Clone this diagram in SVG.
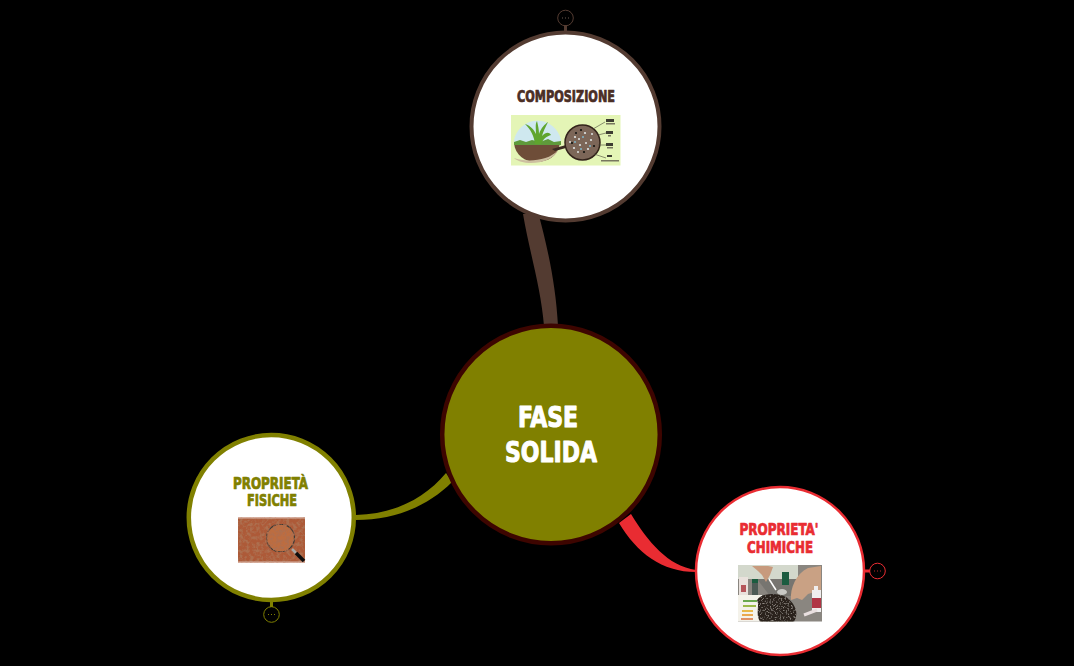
<svg xmlns="http://www.w3.org/2000/svg" width="1074" height="666" viewBox="0 0 1074 666">
<style>
text{font-family:"DejaVu Sans Condensed","DejaVu Sans",sans-serif;font-weight:700;text-anchor:middle;stroke-linejoin:round}
.t{font-size:15.500px;stroke-width:.7px}
.m{font-size:28.500px;fill:#fff;stroke:#fff;stroke-width:1px}
.b{fill:#fff}
.d{fill:none;stroke-width:1}
</style>
<defs>
<filter id="s" x="-5%" y="-5%" width="110%" height="110%"><feGaussianBlur stdDeviation=".5"/></filter>
<filter id="g" x="0" y="0" width="100%" height="100%"><feTurbulence type="fractalNoise" baseFrequency=".3" numOctaves="3" seed="4"/><feColorMatrix values="0 0 0 0 .42 0 0 0 0 .16 0 0 0 0 .08 3.500 0 0 0 -1.450"/><feComposite in2="SourceAlpha" operator="in" result="n"/><feMerge><feMergeNode in="SourceGraphic"/><feMergeNode in="n"/></feMerge></filter>
<filter id="k" x="0" y="0" width="100%" height="100%"><feTurbulence type="fractalNoise" baseFrequency=".6" numOctaves="2" seed="9"/><feColorMatrix values="0 0 0 0 .42 0 0 0 0 .38 0 0 0 0 .34 2.500 0 0 0 -1.350"/><feComposite in2="SourceAlpha" operator="in" result="n"/><feMerge><feMergeNode in="SourceGraphic"/><feMergeNode in="n"/></feMerge></filter>
</defs>
<rect width="1074" height="666" fill="#000"/>
<g id="connectors">
<path d="M523 214C529 250 541 288 544 326L558 326C556 285 547 245 538 212Z" fill="#533b31"/>
<path d="M356 515C395 514 425 498 446 473L452 482C428 506 395 520 356 520Z" fill="#808000"/>
<path d="M619 523L631 514C648 542 668 566 696 570L696 572C662 572 637 553 619 523Z" fill="#e92c32"/>
<rect x="564" y="25" width="3" height="7" fill="#533b31"/>
<rect x="270" y="601" width="3" height="6" fill="#808000"/>
<rect x="864" y="569.500" width="6" height="3" fill="#e92c32"/>
</g>
<g id="node-composizione">
<circle cx="565.500" cy="126.500" r="94" class="b" stroke="#533b31" stroke-width="4"/>
<text class="t" x="566" y="102" fill="#4a2e25" stroke="#4a2e25" textLength="98" lengthAdjust="spacingAndGlyphs">COMPOSIZIONE</text>
<g filter="url(#s)">
<rect x="511" y="115" width="109.500" height="50.500" fill="#e4f5b6"/>
<path d="M514 140A24 24 0 0 1 561 140L560 144H515Z" fill="#cfe8ef"/>
<path d="M514 143H560C558 156 548 162 536 162C525 162 515 155 514 143Z" fill="#6e4d38"/>
<path d="M514 158C525 162 548 162 558 150C552 165 522 166 514 158Z" fill="#cdbfa0"/>
<path d="M514 142L520 140L526 142L532 140L540 142L548 139L554 142L561 141V145H514Z" fill="#5f9a3a"/>
<path d="M535 144C534 136 531 130 525 124C531 126 534 130 536 134C536 128 535 124 537 121C538 125 539 130 539 134C541 128 545 124 548 122C545 128 543 132 542 136C546 132 549 132 551 135C547 136 543 139 541 144Z" fill="#5ea52f"/>
<path d="M552 149L566 145V148L555 151Z" fill="#3a2a20"/>
<circle cx="582.500" cy="142.500" r="17.500" fill="#7c6658" stroke="#33231a" stroke-width="1.500"/>
<g fill="#dfe5e5"><circle cx="575" cy="137" r="1.100"/><circle cx="585" cy="133" r="1.100"/><circle cx="591" cy="140" r="1.100"/><circle cx="580" cy="145" r="1.100"/><circle cx="588" cy="149" r="1.100"/><circle cx="574" cy="148" r="1.100"/><circle cx="570" cy="142" r="1"/><circle cx="579" cy="139" r="1"/><circle cx="586" cy="143" r="1"/><circle cx="578" cy="152" r="1"/><circle cx="592" cy="134" r="1"/></g>
<g fill="#7fb6c9"><circle cx="583" cy="137" r="1"/><circle cx="575" cy="142" r="1"/><circle cx="590" cy="146" r="1"/><circle cx="581" cy="149" r="1"/></g>
<g fill="#111"><circle cx="581" cy="130" r="1.100"/><circle cx="594" cy="146" r="1.100"/><circle cx="572" cy="143" r="1.100"/><circle cx="584" cy="152" r="1.100"/><circle cx="576" cy="133" r="1"/></g>
<path d="M593 129L605 122M598 135L606 133M598 145L606 145M594 154L606 158" stroke="#4a4a3a" stroke-width=".6" fill="none"/>
<path d="M606 119h8v3h-8zM606 131h7v3h-7zM606 143h7v3h-7zM607 155h5v2h-5z" fill="#3d3d30"/>
<path d="M606 123h9v1.500h-9zM608 135h3v1.500h-3zM607 147h6v1.500h-6zM601 160h18v1.500h-18z" fill="#77775f"/>
</g>
</g>
<g id="node-fisiche">
<circle cx="271.300" cy="517.500" r="82.500" class="b" stroke="#808000" stroke-width="4.500"/>
<text class="t" x="270.500" y="489" fill="#808000" stroke="#808000" textLength="75" lengthAdjust="spacingAndGlyphs">PROPRIETÀ</text>
<text class="t" x="272" y="506" fill="#808000" stroke="#808000" textLength="50" lengthAdjust="spacingAndGlyphs">FISICHE</text>
<g filter="url(#s)">
<rect x="238" y="517.500" width="67" height="45" fill="#ad5a38" filter="url(#g)"/>
<rect x="238" y="517.500" width="67" height="1" fill="#d9b5a8"/>
<rect x="238" y="561.500" width="67" height="1" fill="#d9b5a8"/>
<circle cx="280.500" cy="538" r="14" fill="#bd6d3f" stroke="#3a3a38" stroke-width="1.300" filter="url(#g)"/>
<path d="M292 549L296 553" stroke="#a8aaa8" stroke-width="2.500"/>
<path d="M296 553L304 561" stroke="#111" stroke-width="3.500"/>
</g>
</g>
<g id="node-chimiche">
<circle cx="780" cy="571" r="84" class="b" stroke="#e92c32" stroke-width="2.500"/>
<text class="t" x="779" y="535" fill="#e92c32" stroke="#e92c32" textLength="79" lengthAdjust="spacingAndGlyphs">PROPRIETA'</text>
<text class="t" x="780" y="553" fill="#e92c32" stroke="#e92c32" textLength="66" lengthAdjust="spacingAndGlyphs">CHIMICHE</text>
<g filter="url(#s)">
<rect x="738" y="565" width="84" height="56.500" fill="#8a8680"/>
<rect x="738" y="565" width="60" height="14" fill="#d3d8cc"/>
<path d="M757 579H800L796 596H770Z" fill="#77756f"/>
<path d="M752 566H768L773 567L770 575L766 582L762 575L758 571Z" fill="#c79a7d"/>
<path d="M791 600C790 588 796 574 808 568L821 566V590L808 594L802 600L797 598Z" fill="#c9a184"/>
<rect x="782" y="572" width="7" height="13" fill="#1e5c40"/>
<rect x="752" y="579" width="6" height="18" fill="#4e5a54"/>
<rect x="752" y="579" width="6" height="4" fill="#1e5c40"/>
<rect x="739" y="577" width="9" height="19" fill="#e9e1dc"/>
<rect x="741" y="585" width="5" height="7" fill="#b5545a"/>
<rect x="738" y="595" width="24" height="26.500" fill="#f4f2ea"/>
<path d="M743 600h14v2h-14z" fill="#6aa84f"/><path d="M743 605h13v2h-13z" fill="#9cba49"/><path d="M742 610h11v2h-11z" fill="#e9b949"/><path d="M742 614h11v2h-11z" fill="#eaa84f"/><path d="M741 618h12v2h-12z" fill="#df9268"/>
<path d="M757 600C762 592 778 593 786 597C796 604 799 614 794 621.500H760C755 614 760 606 757 600Z" fill="#2a221d" filter="url(#k)"/>
<path d="M769 579L776 590" stroke="#fff" stroke-width="1.500"/>
<ellipse cx="782" cy="592" rx="5" ry="3" fill="#c9c9c5"/>
<rect x="812" y="590" width="9" height="22" fill="#f0eeee"/>
<rect x="814" y="586" width="4" height="5" fill="#f0eeee"/>
<rect x="812" y="598" width="9" height="10" fill="#b03545"/>
<path d="M804 615L817 610" stroke="#e9dfdf" stroke-width="3"/>
</g>
</g>
<g id="node-fase-solida">
<circle cx="551" cy="434.500" r="108.800" fill="#808000" stroke="#3d0500" stroke-width="4.500"/>
<text class="m" x="548" y="427" textLength="60" lengthAdjust="spacingAndGlyphs">FASE</text>
<text class="m" x="551" y="462" textLength="92" lengthAdjust="spacingAndGlyphs">SOLIDA</text>
</g>
<g id="collapse-composizione">
<circle cx="565.500" cy="18" r="7.800" class="d" stroke="#533b31"/>
<path d="M562 18h1M565 18h1M568 18h1" stroke="#6a5a50" stroke-width="1"/>
</g>
<g id="collapse-fisiche">
<circle cx="271.500" cy="614.500" r="7.800" class="d" stroke="#808000"/>
<path d="M268 614.500h1M271 614.500h1M274 614.500h1" stroke="#808000" stroke-width="1"/>
</g>
<g id="collapse-chimiche">
<circle cx="877.500" cy="571" r="7.800" class="d" stroke="#e92c32"/>
<path d="M874 571h1M877 571h1M880 571h1" stroke="#b5262b" stroke-width="1"/>
</g>
</svg>
